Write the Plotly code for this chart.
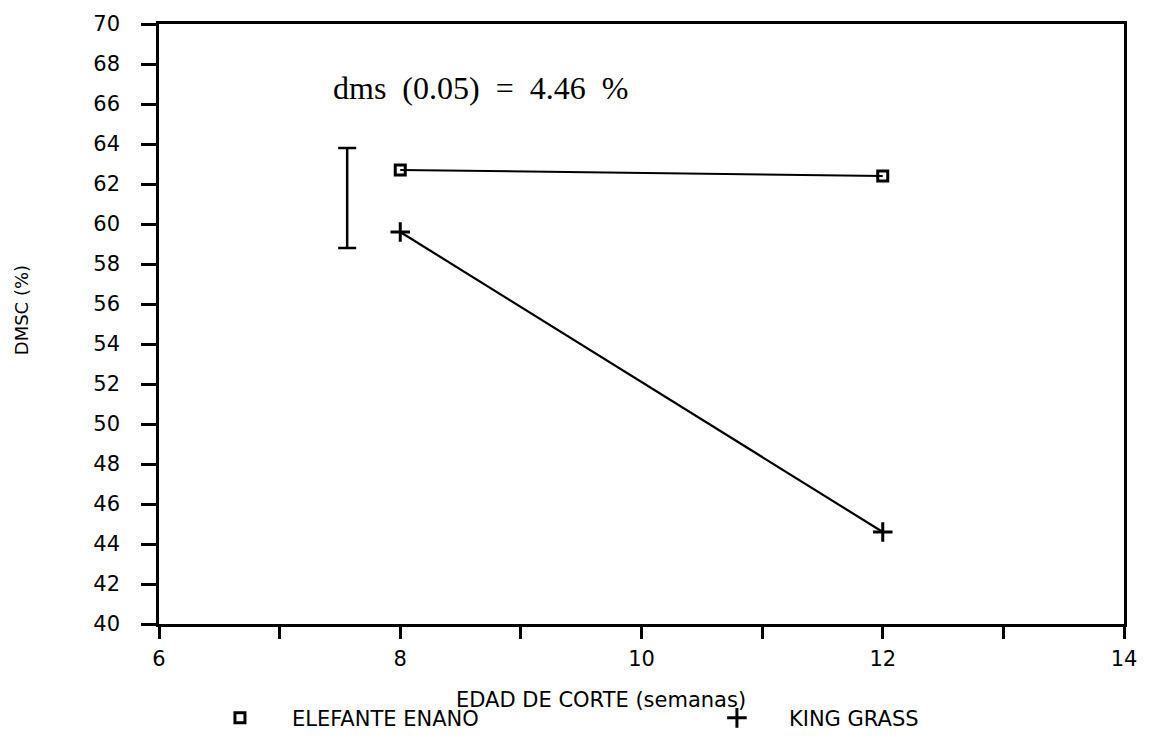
import plotly.graph_objects as go

# Data
edad = [8, 12]
elefante_enano = [62.7, 62.4]
king_grass = [59.6, 44.6]
dms_x = 7.56
dms_center = 61.3
dms_half = 2.5

x_tickvals = [6, 7, 8, 9, 10, 11, 12, 13, 14]
x_ticktext = ["6", "", "8", "", "10", "", "12", "", "14"]
y_tickvals = list(range(40, 72, 2))

fnt = "DejaVu Sans"

fig = go.Figure()

fig.add_trace(go.Scatter(
    x=edad, y=elefante_enano, mode="lines+markers",
    line=dict(color="black", width=2),
    marker=dict(symbol="square-open", size=10, color="black", line=dict(width=3, color="black")),
    showlegend=False))
fig.add_trace(go.Scatter(
    x=edad, y=king_grass, mode="lines+markers",
    line=dict(color="black", width=2.2),
    marker=dict(symbol="cross-thin-open", size=14, color="black", line=dict(width=3, color="black")),
    showlegend=False))

# dms bar
fig.add_trace(go.Scatter(
    x=[dms_x], y=[dms_center], mode="markers",
    marker=dict(size=1, color="rgba(0,0,0,0)"),
    error_y=dict(type="data", array=[dms_half], symmetric=True, color="black", thickness=2.5, width=9),
    showlegend=False, hoverinfo="skip"))

# legend entries
fig.add_trace(go.Scatter(
    x=[None], y=[None], mode="markers", name="ELEFANTE ENANO", legend="legend",
    marker=dict(symbol="square-open", size=10, color="black", line=dict(width=3, color="black"))))
fig.add_trace(go.Scatter(
    x=[None], y=[None], mode="markers", name="KING GRASS", legend="legend2",
    marker=dict(symbol="cross-thin-open", size=14, color="black", line=dict(width=3, color="black"))))

leg_common = dict(orientation="h", xanchor="left", yanchor="middle", itemwidth=94,
                  font=dict(family=fnt, size=21, color="black"), bgcolor="rgba(0,0,0,0)")

fig.update_layout(
    width=1150, height=751,
    margin=dict(l=159, r=26, t=22, b=112),
    paper_bgcolor="white", plot_bgcolor="white",
    font=dict(family=fnt, size=21, color="black"),
    showlegend=True,
    legend=dict(x=0.03, y=-0.157, **leg_common),
    legend2=dict(x=0.545, y=-0.157, **leg_common),
)

fig.update_xaxes(
    range=[6, 14], tickvals=x_tickvals, ticktext=x_ticktext,
    showline=True, linecolor="black", linewidth=2.5, mirror=True,
    ticks="outside", ticklen=12, tickwidth=2.5, tickcolor="black",
    showgrid=False, zeroline=False, ticklabelstandoff=2,
    tickfont=dict(family=fnt, size=21))
fig.update_yaxes(
    range=[40, 70], tickvals=y_tickvals,
    showline=True, linecolor="black", linewidth=2.5, mirror=True,
    ticks="outside", ticklen=15, tickwidth=2.5, tickcolor="black",
    showgrid=False, zeroline=False, ticklabelstandoff=17,
    tickfont=dict(family=fnt, size=21))

fig.add_annotation(
    text="EDAD DE CORTE (semanas)", xref="paper", yref="paper",
    x=0.458, y=-0.126, xanchor="center", yanchor="middle", showarrow=False,
    font=dict(family=fnt, size=21, color="black"))
fig.add_annotation(
    text="DMSC (%)", xref="paper", yref="paper",
    x=-0.143, y=0.523, xanchor="center", yanchor="middle", textangle=-90, showarrow=False,
    font=dict(family=fnt, size=18, color="black"))
fig.add_annotation(
    text="dms\u00a0\u00a0(0.05)\u00a0\u00a0=\u00a0\u00a04.46\u00a0\u00a0%", xref="x", yref="y",
    x=7.43, y=66.8, xanchor="left", yanchor="middle", showarrow=False,
    font=dict(family="Liberation Serif", size=32, color="black"))

fig.write_html("out.html")
